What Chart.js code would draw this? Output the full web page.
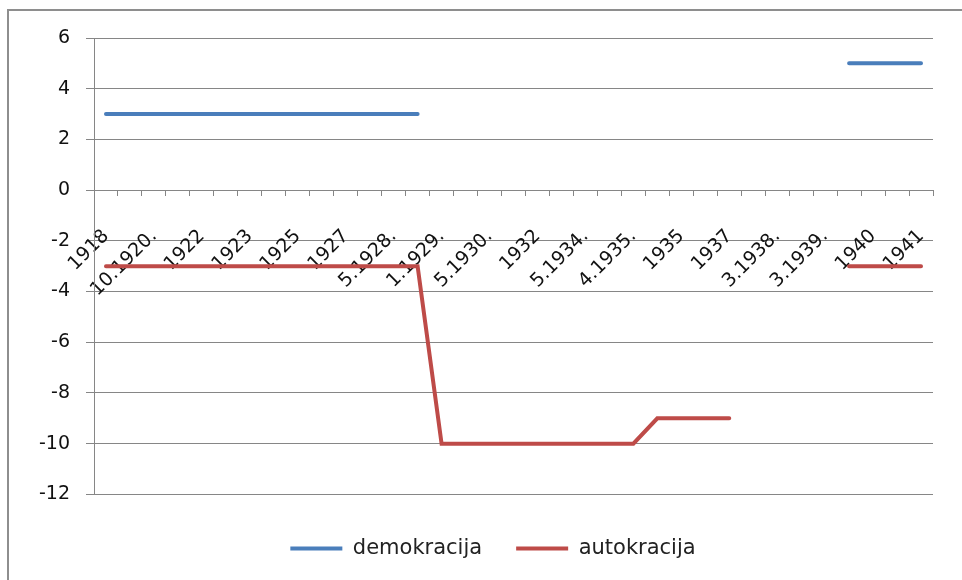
<!DOCTYPE html>
<html>
<head>
<meta charset="utf-8">
<script src="https://cdn.jsdelivr.net/npm/chart.js@4"></script>
<style>
  html, body { margin: 0; padding: 0; background: #fff; overflow: hidden; }
  #frame { position: absolute; left: 7px; top: 9px; width: 1000px; height: 1000px;
           border-left: 2px solid #8e8e8e; border-top: 2px solid #8e8e8e; }
  #wrap { position: absolute; left: 0; top: 0; width: 962px; height: 580px; }
</style>
</head>
<body>
<div id="frame"></div>
<div id="wrap"><canvas id="chart"></canvas></div>
<script>
// ===== Data =====
// only every second category label is visible in the original, odd ones left blank
const categories = [
  '1918', '', '10.1920.', '', '1922', '', '1923', '', '1925', '', '1927', '', '5.1928.', '',
  '1.1929.', '', '5.1930.', '', '1932', '', '5.1934.', '', '4.1935.', '', '1935', '', '1937', '',
  '3.1938.', '', '3.1939.', '', '1940', '', '1941'
];

const demokracija = [
  3, 3, 3, 3, 3, 3, 3, 3, 3, 3, 3, 3, 3, 3,
  null, null, null, null, null, null, null, null, null, null, null, null, null, null, null, null, null,
  5, 5, 5, 5
];

const autokracija = [
  -3, -3, -3, -3, -3, -3, -3, -3, -3, -3, -3, -3, -3, -3,
  -10, -10, -10, -10, -10, -10, -10, -10, -10,
  -9, -9, -9, -9,
  null, null, null, null,
  -3, -3, -3, -3
];

const yTicks = { min: -12, max: 6, step: 2 };

const FONT = "'DejaVu Sans', sans-serif";
const GRID = '#868686';

// nudge the legend a little right, the original sits off-centre
const legendShift = {
  id: 'legendShift',
  afterLayout(chart) {
    chart.legend.left += 10;
    chart.legend.right += 10;
  }
};

new Chart(document.getElementById('chart'), {
  type: 'line',
  data: {
    labels: categories,
    datasets: [
      {
        label: 'demokracija',
        data: demokracija,
        borderColor: '#4a7ebb',
        backgroundColor: '#4a7ebb',
        borderWidth: 4,
        borderCapStyle: 'round',
        pointRadius: 0,
        tension: 0,
        spanGaps: false,
      },
      {
        label: 'autokracija',
        data: autokracija,
        borderColor: '#be4b48',
        backgroundColor: '#be4b48',
        borderWidth: 4,
        borderCapStyle: 'round',
        pointRadius: 0,
        tension: 0,
        spanGaps: false,
      }
    ]
  },
  plugins: [legendShift],
  options: {
    responsive: true,
    maintainAspectRatio: false,
    animation: false,
    layout: { padding: { top: 38, right: 29, left: 33, bottom: 11 } },
    plugins: {
      tooltip: { enabled: false },
      legend: {
        position: 'bottom',
        // blank title just pushes the legend row down a bit
        title: { display: true, text: ' ', padding: 0, font: { size: 8 } },
        labels: {
          boxWidth: 52,
          boxHeight: 4,
          padding: 34,
          color: '#222',
          font: { family: FONT, size: 21 },
          generateLabels: (chart) =>
            Chart.defaults.plugins.legend.labels.generateLabels(chart)
              .map(l => ({ ...l, lineWidth: 0, fillStyle: l.strokeStyle }))
        }
      }
    },
    scales: {
      x: {
        type: 'category',
        position: { y: 0 },
        offset: true,
        // rotated labels sit inside the plot, they should not squeeze it
        afterFit: (s) => { s.paddingLeft = 0; s.paddingRight = 0; },
        grid: { offset: true, drawOnChartArea: false, drawTicks: true, tickLength: 5, color: GRID },
        border: { color: GRID },
        ticks: {
          autoSkip: false,
          maxRotation: 45,
          minRotation: 45,
          padding: 30,
          color: '#111',
          font: { family: FONT, size: 19 },
        }
      },
      y: {
        min: yTicks.min,
        max: yTicks.max,
        afterFit: (s) => { s.width = 61; },
        grid: { color: GRID, tickLength: 8 },
        border: { color: GRID },
        ticks: {
          stepSize: yTicks.step,
          padding: 16,
          color: '#111',
          font: { family: FONT, size: 19 },
        }
      }
    }
  }
});
</script>
</body>
</html>
